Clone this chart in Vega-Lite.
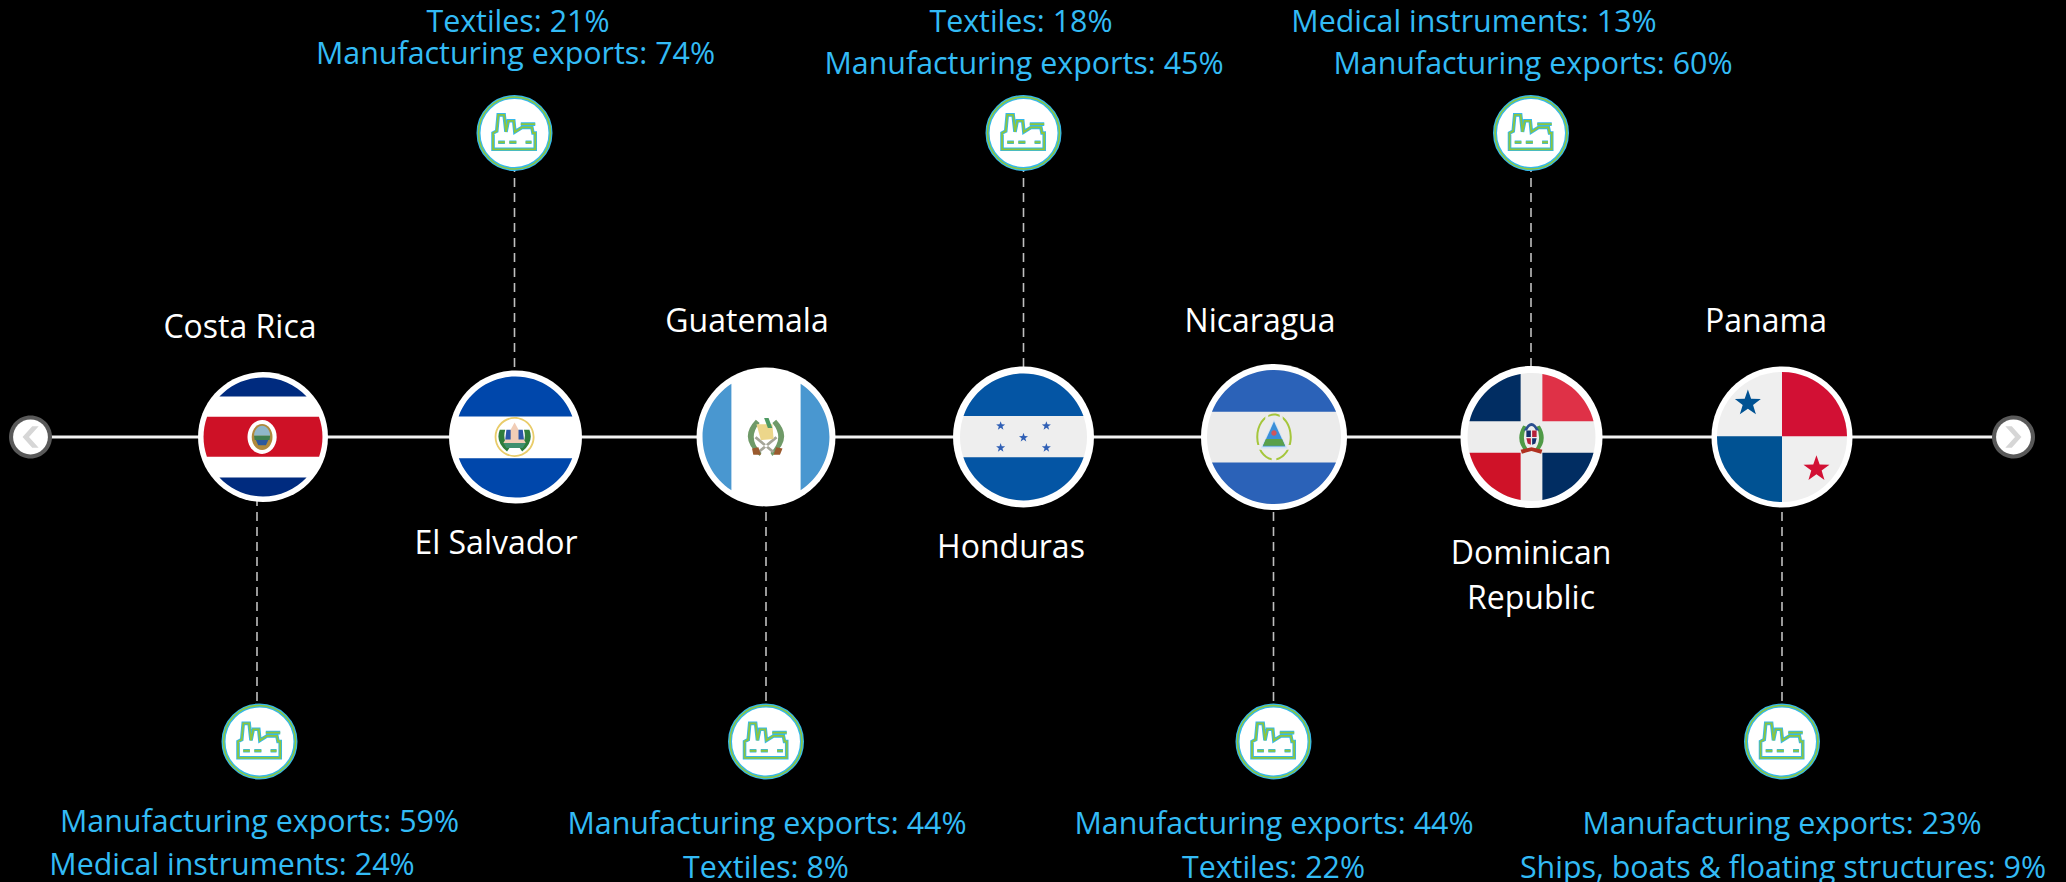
{"$schema":"https://vega.github.io/schema/vega-lite/v6.json","width":2066,"height":882,"padding":0,"autosize":{"type":"none"},"background":"#000000","config":{"view":{"stroke":null}},
"datasets":{
"timeline":[{"slot":1,"slotEnd":28,"lane":7}],
"connectors":[{"country":"Costa Rica","slot":4,"lane":7,"laneEnd":12},{"country":"El Salvador","slot":8,"lane":4,"laneEnd":7},{"country":"Guatemala","slot":12,"lane":7,"laneEnd":12},{"country":"Honduras","slot":16,"lane":4,"laneEnd":7},{"country":"Nicaragua","slot":19,"lane":7,"laneEnd":12},{"country":"Dominican Republic","slot":22,"lane":4,"laneEnd":7},{"country":"Panama","slot":26,"lane":7,"laneEnd":12}],
"icons":[{"country":"Costa Rica","slot":5,"lane":12},{"country":"El Salvador","slot":8,"lane":4},{"country":"Guatemala","slot":12,"lane":12},{"country":"Honduras","slot":16,"lane":4},{"country":"Nicaragua","slot":19,"lane":12},{"country":"Dominican Republic","slot":22,"lane":4},{"country":"Panama","slot":26,"lane":12}],
"countries":[{"name":"Costa Rica","slot":3,"lane":6},{"name":"El Salvador","slot":7,"lane":8},{"name":"Guatemala","slot":11,"lane":5},{"name":"Honduras","slot":14,"lane":9},{"name":"Nicaragua","slot":18,"lane":5},{"name":"Dominican","slot":22,"lane":10},{"name":"Republic","slot":22,"lane":11},{"name":"Panama","slot":25,"lane":5}],
"metrics":[{"country":"El Salvador","label":"Textiles: 21%","slot":10,"lane":1},{"country":"El Salvador","label":"Manufacturing exports: 74%","slot":9,"lane":2},{"country":"Honduras","label":"Textiles: 18%","slot":15,"lane":1},{"country":"Honduras","label":"Manufacturing exports: 45%","slot":17,"lane":3},{"country":"Dominican Republic","label":"Medical instruments: 13%","slot":21,"lane":1},{"country":"Dominican Republic","label":"Manufacturing exports: 60%","slot":24,"lane":3},{"country":"Costa Rica","label":"Manufacturing exports: 59%","slot":5,"lane":13},{"country":"Costa Rica","label":"Medical instruments: 24%","slot":2,"lane":15},{"country":"Guatemala","label":"Manufacturing exports: 44%","slot":13,"lane":14},{"country":"Guatemala","label":"Textiles: 8%","slot":12,"lane":16},{"country":"Nicaragua","label":"Manufacturing exports: 44%","slot":20,"lane":14},{"country":"Nicaragua","label":"Textiles: 22%","slot":19,"lane":16},{"country":"Panama","label":"Manufacturing exports: 23%","slot":26,"lane":14},{"country":"Panama","label":"Ships, boats & floating structures: 9%","slot":27,"lane":16}],
"parts":[
{"node":0,"slot":1,"lane":7,"part":"nav-ring"},{"node":0,"slot":1,"lane":7,"part":"nav-disc"},{"node":0,"slot":1,"lane":7,"part":"nav-left"},
{"node":8,"slot":28,"lane":7,"part":"nav-ring"},{"node":8,"slot":28,"lane":7,"part":"nav-disc"},{"node":8,"slot":28,"lane":7,"part":"nav-right"},
{"node":1,"slot":6,"lane":7,"part":"cr-ring"},{"node":1,"slot":6,"lane":7,"part":"cr-blue"},{"node":1,"slot":6,"lane":7,"part":"cr-red"},{"node":1,"slot":6,"lane":7,"part":"cr-em-white"},{"node":1,"slot":6,"lane":7,"part":"cr-em-gold"},{"node":1,"slot":6,"lane":7,"part":"cr-em-sky"},{"node":1,"slot":6,"lane":7,"part":"cr-em-green"},{"node":1,"slot":6,"lane":7,"part":"cr-em-water"},
{"node":2,"slot":9,"lane":7,"part":"es-ring"},{"node":2,"slot":9,"lane":7,"part":"es-blue"},{"node":2,"slot":9,"lane":7,"part":"es-em-ring"},{"node":2,"slot":9,"lane":7,"part":"es-em-wreath"},{"node":2,"slot":9,"lane":7,"part":"es-em-tri"},{"node":2,"slot":9,"lane":7,"part":"es-em-flags"},{"node":2,"slot":9,"lane":7,"part":"es-em-land"},
{"node":3,"slot":12,"lane":7,"part":"gt-ring"},{"node":3,"slot":12,"lane":7,"part":"gt-blue"},{"node":3,"slot":12,"lane":7,"part":"gt-em-wreath"},{"node":3,"slot":12,"lane":7,"part":"gt-em-rifles"},{"node":3,"slot":12,"lane":7,"part":"gt-em-scroll"},{"node":3,"slot":12,"lane":7,"part":"gt-em-bird"},{"node":3,"slot":12,"lane":7,"part":"gt-em-base"},
{"node":4,"slot":16,"lane":7,"part":"hn-ring"},{"node":4,"slot":16,"lane":7,"part":"hn-disc"},{"node":4,"slot":16,"lane":7,"part":"hn-blue"},{"node":4,"slot":16,"lane":7,"part":"hn-stars"},
{"node":5,"slot":20,"lane":7,"part":"ni-ring"},{"node":5,"slot":20,"lane":7,"part":"ni-disc"},{"node":5,"slot":20,"lane":7,"part":"ni-blue"},{"node":5,"slot":20,"lane":7,"part":"ni-em-ring"},{"node":5,"slot":20,"lane":7,"part":"ni-em-gaps"},{"node":5,"slot":20,"lane":7,"part":"ni-em-outline"},{"node":5,"slot":20,"lane":7,"part":"ni-em-tri"},{"node":5,"slot":20,"lane":7,"part":"ni-em-land"},{"node":5,"slot":20,"lane":7,"part":"ni-em-dot"},
{"node":6,"slot":23,"lane":7,"part":"dr-ring"},{"node":6,"slot":23,"lane":7,"part":"dr-disc"},{"node":6,"slot":23,"lane":7,"part":"dr-navy"},{"node":6,"slot":23,"lane":7,"part":"dr-red-top"},{"node":6,"slot":23,"lane":7,"part":"dr-red-low"},{"node":6,"slot":23,"lane":7,"part":"dr-em-wreath"},{"node":6,"slot":23,"lane":7,"part":"dr-em-dome"},{"node":6,"slot":23,"lane":7,"part":"dr-em-navy"},{"node":6,"slot":23,"lane":7,"part":"dr-em-red"},{"node":6,"slot":23,"lane":7,"part":"dr-em-ribbon"},
{"node":7,"slot":26,"lane":7,"part":"pa-ring"},{"node":7,"slot":26,"lane":7,"part":"pa-disc"},{"node":7,"slot":26,"lane":7,"part":"pa-red"},{"node":7,"slot":26,"lane":7,"part":"pa-blue"},{"node":7,"slot":26,"lane":7,"part":"pa-star-blue"},{"node":7,"slot":26,"lane":7,"part":"pa-star-red"}
]},
"encoding":{
"x":{"field":"slot","type":"quantitative","axis":null,"scale":{"domain":[1,2,3,4,5,6,7,8,9,10,11,12,13,14,15,16,17,18,19,20,21,22,23,24,25,26,27,28],"range":[30.5,232,240,257,259.5,263,496,514.5,515.5,518,747,766,767,1011,1021,1023.5,1024,1260,1273.5,1274,1474,1531,1531.5,1533,1766,1782,1783,2013.5]}},
"y":{"field":"lane","type":"quantitative","axis":null,"scale":{"domain":[1,2,3,4,5,6,7,8,9,10,11,12,13,14,15,16],"range":[23,55,65,133,322,328,437,544,548,554,599,741.5,822.5,824.5,865.5,868.5]}}
},
"layer":[
{"data":{"name":"timeline"},"mark":{"type":"rule","stroke":"#f2f2f2","strokeWidth":3},"encoding":{"x2":{"field":"slotEnd"}}},
{"data":{"name":"connectors"},"mark":{"type":"rule","stroke":"#bfbfbf","strokeWidth":1.6,"strokeDash":[9,6]},"encoding":{"y2":{"field":"laneEnd"}}},
{"data":{"name":"parts"},"mark":{"type":"point","filled":true,"opacity":1,"strokeWidth":0},"encoding":{
"size":{"field":"node","type":"quantitative","legend":null,"scale":{"domain":[0,1,2,3,4,5,6,7,8],"range":[1849,14161,14641,16129,16129,17956,16384,16900,1849]}},
"shape":{"field":"part","type":"nominal","legend":null,"scale":{
"domain":["nav-ring","nav-disc","nav-left","nav-right","cr-ring","cr-blue","cr-red","cr-em-white","cr-em-gold","cr-em-sky","cr-em-green","cr-em-water","es-ring","es-blue","es-em-ring","es-em-wreath","es-em-tri","es-em-flags","es-em-land","gt-ring","gt-blue","gt-em-wreath","gt-em-rifles","gt-em-scroll","gt-em-bird","gt-em-base","hn-ring","hn-disc","hn-blue","hn-stars","ni-ring","ni-disc","ni-blue","ni-em-ring","ni-em-gaps","ni-em-outline","ni-em-tri","ni-em-land","ni-em-dot","dr-ring","dr-disc","dr-navy","dr-red-top","dr-red-low","dr-em-wreath","dr-em-dome","dr-em-navy","dr-em-red","dr-em-ribbon","pa-ring","pa-disc","pa-red","pa-blue","pa-star-blue","pa-star-red"],
"range":[
"M-1,0 A1,1 0 1 1 1,0 A1,1 0 1 1 -1,0 Z",
"M-0.81,0 A0.81,0.81 0 1 1 0.81,0 A0.81,0.81 0 1 1 -0.81,0 Z",
"M0.08,-0.5 L0.38,-0.5 L-0.07,0 L0.38,0.5 L0.08,0.5 L-0.37,0 Z",
"M-0.08,-0.5 L-0.38,-0.5 L0.07,0 L-0.38,0.5 L-0.08,0.5 L0.37,0 Z",
"M-1.092,0 A1.092,1.092 0 1 1 1.092,0 A1.092,1.092 0 1 1 -1.092,0 Z",
"M-0.733,-0.68 A1,1 0 0 1 0.733,-0.68 Z M0.733,0.68 A1,1 0 0 1 -0.733,0.68 Z",
"M-0.94,-0.34 L0.94,-0.34 A1,1 0 0 1 0.943,0.33 L-0.943,0.33 A1,1 0 0 1 -0.94,-0.34 Z",
"M-0.26,0 A0.245,0.285 0 1 1 0.23,0 A0.245,0.285 0 1 1 -0.26,0 Z",
"M-0.19,0 A0.175,0.22 0 1 1 0.16,0 A0.175,0.22 0 1 1 -0.19,0 Z",
"M-0.15,-0.02 A0.135,0.17 0 0 1 0.12,-0.02 Z",
"M-0.15,-0.02 L0.12,-0.02 L0.11,0.05 L-0.14,0.05 Z",
"M-0.12,0.05 L0.09,0.05 L0.05,0.14 L-0.08,0.14 Z",
"M-1.099,0 A1.099,1.099 0 1 1 1.099,0 A1.099,1.099 0 1 1 -1.099,0 Z",
"M-0.94,-0.34 A1,1 0 0 1 0.94,-0.34 Z M0.937,0.35 A1,1 0 0 1 -0.937,0.35 Z",
"M-0.345,0 A0.33,0.33 0 1 1 0.315,0 A0.33,0.33 0 1 1 -0.345,0 Z M-0.315,0 A0.3,0.3 0 1 0 0.285,0 A0.3,0.3 0 1 0 -0.315,0 Z",
"M-0.26,-0.12 Q-0.34,0.08 -0.14,0.24 L-0.1,0.18 Q-0.22,0.06 -0.17,-0.12 Z M0.23,-0.12 Q0.31,0.08 0.11,0.24 L0.07,0.18 Q0.19,0.06 0.14,-0.12 Z",
"M-0.015,-0.24 L0.17,0.1 L-0.2,0.1 Z",
"M-0.15,-0.12 L-0.08,-0.12 L-0.08,0.04 L-0.17,0.04 Z M0.05,-0.12 L0.12,-0.12 L0.14,0.04 L0.05,0.04 Z",
"M-0.2,0.1 L0.17,0.1 L0.12,0.18 L-0.15,0.18 Z",
"M-1.094,0 A1.094,1.094 0 1 1 1.094,0 A1.094,1.094 0 1 1 -1.094,0 Z",
"M-0.545,-0.838 A1,1 0 0 0 -0.545,0.838 Z M0.545,-0.838 A1,1 0 0 1 0.545,0.838 Z",
"M-0.16,-0.27 Q-0.44,0.02 -0.1,0.3 L-0.07,0.25 Q-0.3,0.02 -0.1,-0.22 Z M0.16,-0.27 Q0.44,0.02 0.1,0.3 L0.07,0.25 Q0.3,0.02 0.1,-0.22 Z",
"M-0.18,0.02 L-0.15,-0.01 L0.13,0.22 L0.1,0.25 Z M0.18,0.02 L0.15,-0.01 L-0.13,0.22 L-0.1,0.25 Z",
"M-0.15,-0.2 L0.1,-0.2 L0.12,0.03 L-0.08,0.05 Z",
"M-0.03,-0.3 L0.04,-0.3 L0.1,-0.14 L0.03,-0.14 Z",
"M-0.22,0.18 L-0.12,0.16 L-0.08,0.28 L-0.2,0.28 Z M0.16,0.16 L0.26,0.18 L0.22,0.28 L0.12,0.28 Z",
"M-1.11,0 A1.11,1.11 0 1 1 1.11,0 A1.11,1.11 0 1 1 -1.11,0 Z",
"M-1,0 A1,1 0 1 1 1,0 A1,1 0 1 1 -1,0 Z",
"M-0.944,-0.33 A1,1 0 0 1 0.944,-0.33 Z M0.947,0.32 A1,1 0 0 1 -0.947,0.32 Z",
"M-0.36,-0.25 l0.0176,0.0507 0.0537,0.0011 -0.0428,0.0325 0.0156,0.0514 -0.0441,-0.0307 -0.0441,0.0307 0.0156,-0.0514 -0.0428,-0.0325 0.0537,-0.0011 z M0.36,-0.25 l0.0176,0.0507 0.0537,0.0011 -0.0428,0.0325 0.0156,0.0514 -0.0441,-0.0307 -0.0441,0.0307 0.0156,-0.0514 -0.0428,-0.0325 0.0537,-0.0011 z M0,-0.065 l0.0176,0.0507 0.0537,0.0011 -0.0428,0.0325 0.0156,0.0514 -0.0441,-0.0307 -0.0441,0.0307 0.0156,-0.0514 -0.0428,-0.0325 0.0537,-0.0011 z M-0.36,0.095 l0.0176,0.0507 0.0537,0.0011 -0.0428,0.0325 0.0156,0.0514 -0.0441,-0.0307 -0.0441,0.0307 0.0156,-0.0514 -0.0428,-0.0325 0.0537,-0.0011 z M0.36,0.095 l0.0176,0.0507 0.0537,0.0011 -0.0428,0.0325 0.0156,0.0514 -0.0441,-0.0307 -0.0441,0.0307 0.0156,-0.0514 -0.0428,-0.0325 0.0537,-0.0011 z",
"M-1.09,0 A1.09,1.09 0 1 1 1.09,0 A1.09,1.09 0 1 1 -1.09,0 Z",
"M-1,0 A1,1 0 1 1 1,0 A1,1 0 1 1 -1,0 Z",
"M-0.926,-0.377 A1,1 0 0 1 0.926,-0.377 Z M0.925,0.38 A1,1 0 0 1 -0.925,0.38 Z",
"M-0.265,0 A0.265,0.35 0 1 1 0.265,0 A0.265,0.35 0 1 1 -0.265,0 Z M-0.235,0 A0.235,0.32 0 1 0 0.235,0 A0.235,0.32 0 1 0 -0.235,0 Z",
"M-0.29,0.12 L-0.16,0.12 L-0.16,0.19 L-0.29,0.19 Z M0.16,0.12 L0.29,0.12 L0.29,0.19 L0.16,0.19 Z M-0.035,0.28 L0.035,0.28 L0.035,0.37 L-0.035,0.37 Z M-0.13,-0.37 L-0.085,-0.37 L-0.085,-0.25 L-0.13,-0.25 Z M0.085,-0.37 L0.13,-0.37 L0.13,-0.25 L0.085,-0.25 Z",
"M0,-0.26 L0.2,0.17 L-0.2,0.17 Z",
"M0,-0.23 L0.17,0.14 L-0.17,0.14 Z",
"M-0.12,0.03 L0.12,0.03 L0.165,0.13 L-0.165,0.13 Z",
"M-0.04,-0.06 A0.04,0.04 0 1 1 0.04,-0.06 A0.04,0.04 0 1 1 -0.04,-0.06 Z",
"M-1.11,0 A1.11,1.11 0 1 1 1.11,0 A1.11,1.11 0 1 1 -1.11,0 Z",
"M-1,0 A1,1 0 1 1 1,0 A1,1 0 1 1 -1,0 Z",
"M-0.17,-0.247 L-0.969,-0.247 A1,1 0 0 1 -0.17,-0.985 Z M0.17,0.247 L0.969,0.247 A1,1 0 0 1 0.17,0.985 Z",
"M0.17,-0.247 L0.17,-0.985 A1,1 0 0 1 0.969,-0.247 Z",
"M-0.17,0.247 L-0.17,0.985 A1,1 0 0 1 -0.969,0.247 Z",
"M-0.13,-0.18 Q-0.27,0.05 -0.09,0.24 L-0.05,0.2 Q-0.17,0.05 -0.08,-0.16 Z M0.13,-0.18 Q0.27,0.05 0.09,0.24 L0.05,0.2 Q0.17,0.05 0.08,-0.16 Z",
"M-0.12,-0.1 Q0,-0.34 0.12,-0.1 L0.07,-0.1 Q0,-0.24 -0.07,-0.1 Z",
"M-0.08,-0.1 L-0.01,-0.1 L-0.01,0 L-0.08,0 Z M0.01,0.02 L0.08,0.02 L0.06,0.1 L0.01,0.12 Z",
"M0.01,-0.1 L0.08,-0.1 L0.08,0 L0.01,0 Z M-0.08,0.02 L-0.01,0.02 L-0.01,0.12 L-0.06,0.1 Z",
"M-0.17,0.2 L0,0.16 L0.17,0.2 L0.15,0.26 L0,0.22 L-0.15,0.26 Z",
"M-1.085,0 A1.085,1.085 0 1 1 1.085,0 A1.085,1.085 0 1 1 -1.085,0 Z",
"M-1,0 A1,1 0 1 1 1,0 A1,1 0 1 1 -1,0 Z",
"M0,-0.01 L0,-1 A1,1 0 0 1 1,-0.01 Z",
"M0,-0.01 L0,1 A1,1 0 0 1 -1,-0.01 Z",
"M-0.525,-0.73 l0.0493,0.142 0.1504,0.0031 -0.1198,0.091 0.0437,0.1439 -0.1235,-0.086 -0.1235,0.086 0.0437,-0.1439 -0.1198,-0.091 0.1504,-0.0031 z",
"M0.53,0.28 l0.0493,0.142 0.1504,0.0031 -0.1198,0.091 0.0437,0.1439 -0.1235,-0.086 -0.1235,0.086 0.0437,-0.1439 -0.1198,-0.091 0.1504,-0.0031 z"
]}},
"fill":{"field":"part","type":"nominal","legend":null,"scale":{
"domain":["nav-ring","nav-disc","nav-left","nav-right","cr-ring","cr-blue","cr-red","cr-em-white","cr-em-gold","cr-em-sky","cr-em-green","cr-em-water","es-ring","es-blue","es-em-ring","es-em-wreath","es-em-tri","es-em-flags","es-em-land","gt-ring","gt-blue","gt-em-wreath","gt-em-rifles","gt-em-scroll","gt-em-bird","gt-em-base","hn-ring","hn-disc","hn-blue","hn-stars","ni-ring","ni-disc","ni-blue","ni-em-ring","ni-em-gaps","ni-em-outline","ni-em-tri","ni-em-land","ni-em-dot","dr-ring","dr-disc","dr-navy","dr-red-top","dr-red-low","dr-em-wreath","dr-em-dome","dr-em-navy","dr-em-red","dr-em-ribbon","pa-ring","pa-disc","pa-red","pa-blue","pa-star-blue","pa-star-red"],
"range":["#595959","#ffffff","#d6d6d6","#d6d6d6","#ffffff","#002b7f","#ce1126","#ffffff","#b08a3c","#8fb7c9","#3f7f4f","#2c5a9e","#ffffff","#0047ab","#e9cc6a","#2f7d3b","#f1cdb6","#2b56a8","#3f8f6f","#ffffff","#4997d0","#6f9a68","#a5a598","#ecd68a","#4e9a62","#9a5a2e","#ffffff","#eeeeee","#0455a4","#2f5fb5","#ffffff","#ebebeb","#2b62b8","#a5c63b","#ebebeb","#cfe3f5","#3a8fd8","#5aa04a","#d0555a","#ffffff","#ededed","#012d62","#df3147","#cf1228","#4f9a46","#2a4f8f","#12306b","#b5213a","#b03020","#ffffff","#efefef","#d21034","#005293","#005293","#d21034"]}}
}},
{"data":{"name":"icons"},"mark":{"type":"point","shape":"circle","size":5184,"filled":true,"fill":"#ffffff","stroke":"#35b8ea","strokeWidth":4,"opacity":1}},
{"data":{"name":"icons"},"mark":{"type":"point","shape":"circle","size":5184,"filled":false,"stroke":"#8cc63f","strokeWidth":1.6,"opacity":1}},
{"data":{"name":"icons"},"mark":{"type":"point","shape":"M-0.58,0.44 L-0.58,0 L-0.48,-0.05 L-0.44,-0.49 L-0.28,-0.49 L-0.23,-0.03 L-0.17,-0.33 L-0.02,-0.33 L0.01,-0.03 L0.2,-0.15 L0.47,-0.15 L0.5,0 L0.56,0 L0.56,0.44 Z M0.17,-0.24 L0.56,-0.24 M-0.44,0.25 L-0.26,0.25 M-0.14,0.25 L0.05,0.25 M0.3,0.25 L0.46,0.25","size":5476,"filled":false,"stroke":"#35b8ea","strokeWidth":3.6,"opacity":1}},
{"data":{"name":"icons"},"mark":{"type":"point","shape":"M-0.58,0.44 L-0.58,0 L-0.48,-0.05 L-0.44,-0.49 L-0.28,-0.49 L-0.23,-0.03 L-0.17,-0.33 L-0.02,-0.33 L0.01,-0.03 L0.2,-0.15 L0.47,-0.15 L0.5,0 L0.56,0 L0.56,0.44 Z M0.17,-0.24 L0.56,-0.24 M-0.44,0.25 L-0.26,0.25 M-0.14,0.25 L0.05,0.25 M0.3,0.25 L0.46,0.25","size":5476,"filled":false,"stroke":"#8cc63f","strokeWidth":1.8,"opacity":1}},
{"data":{"name":"countries"},"mark":{"type":"text","font":"Open Sans","fontSize":32,"fill":"#ffffff","align":"center","baseline":"middle"},"encoding":{"text":{"field":"name"}}},
{"data":{"name":"metrics"},"mark":{"type":"text","font":"Open Sans","fontSize":30.4,"fill":"#33bbf5","align":"center","baseline":"middle"},"encoding":{"text":{"field":"label"}}}
]}
